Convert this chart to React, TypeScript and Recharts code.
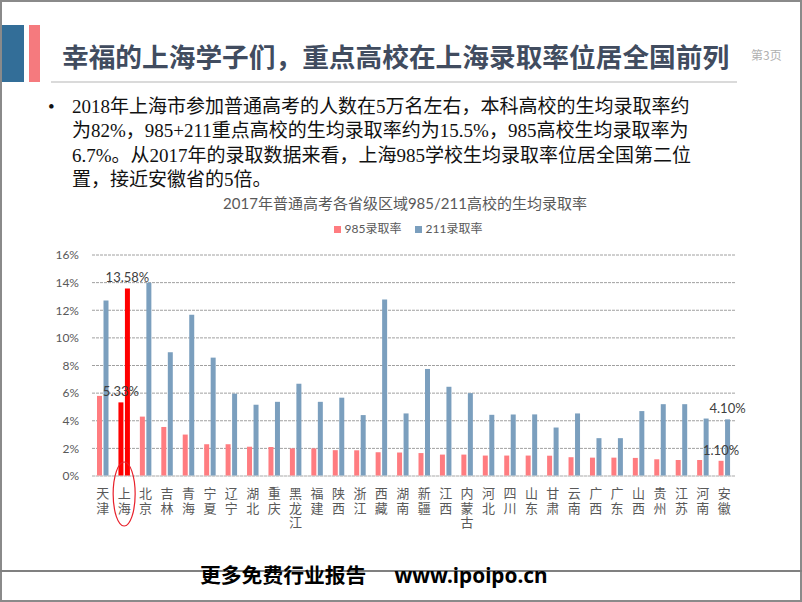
import { BarChart, Bar, XAxis, YAxis, CartesianGrid, Legend, Cell, LabelList } from 'recharts';

const provinces = ['天津', '上海', '北京', '吉林', '青海', '宁夏', '辽宁', '湖北', '重庆', '黑龙江', '福建', '陕西', '浙江', '西藏', '湖南', '新疆', '江西', '内蒙古', '河北', '四川', '山东', '甘肃', '云南', '广西', '广东', '山西', '贵州', '江苏', '河南', '安徽'];
const rate985 = [5.8, 5.33, 4.3, 3.55, 3.0, 2.3, 2.3, 2.12, 2.1, 2.0, 2.0, 1.87, 1.86, 1.72, 1.7, 1.66, 1.55, 1.55, 1.48, 1.48, 1.48, 1.47, 1.36, 1.33, 1.33, 1.31, 1.21, 1.16, 1.16, 1.1];
const rate211 = [12.7, 13.58, 14.0, 8.96, 11.67, 8.57, 5.96, 5.16, 5.37, 6.68, 5.37, 5.67, 4.41, 12.78, 4.53, 7.75, 6.46, 6.0, 4.43, 4.46, 4.46, 3.51, 4.53, 2.74, 2.74, 4.7, 5.2, 5.2, 4.16, 4.1];
const yTicks = [0, 2, 4, 6, 8, 10, 12, 14, 16];
const seriesNames = ['985录取率', '211录取率'];
const highlight = '上海';
const labelled = ['上海', '安徽'];

const data = provinces.map((p, i) => ({ name: p, r985: rate985[i], r211: rate211[i] }));

const PINK = '#ff7c80';
const BLUE = '#7b9fbe';
const RED = '#ff0000';
const GRAY = '#595959';
const CJK = '"Noto Sans CJK SC", sans-serif';
const SANS = 'Lato, "Noto Sans CJK SC", sans-serif';

// vertical category names, one glyph under the other
const XTick = (props: any) => {
  const { x, y, payload } = props;
  return (
    <g>
      <text x={x} y={y + 3} fontSize={13} fill={GRAY} fontFamily={CJK}
        style={{ writingMode: 'vertical-rl', letterSpacing: 1.5 }}>
        {payload.value}
      </text>
      {payload.value === highlight && (
        <ellipse cx={x} cy={y + 10} rx={11} ry={32} fill="none" stroke="#e8202a" strokeWidth={1.2} />
      )}
    </g>
  );
};

const renderLabel = (props: any) => {
  const { x, y, width, value, index } = props;
  if (!labelled.includes(provinces[index])) return null;
  return (
    <text x={x + width / 2} y={y - 6} textAnchor="middle" fontSize={13} fill="#404040" fontFamily={SANS}>
      {Number(value).toFixed(2)}%
    </text>
  );
};

const LegendBox = () => (
  <div style={{ display: 'flex', justifyContent: 'center', fontSize: 12, fontFamily: SANS, color: GRAY, lineHeight: '16px', paddingLeft: 14 }}>
    {seriesNames.map((n, i) => (
      <div key={n} style={{ display: 'flex', alignItems: 'center', marginRight: i === 0 ? 13 : 0 }}>
        <span style={{ width: 7, height: 7, background: i === 0 ? PINK : BLUE, marginRight: 4 }} />
        {n}
      </div>
    ))}
  </div>
);

export default function App() {
  return (
    <div style={{ position: 'absolute', left: 0, top: 0, width: 802, height: 602, background: '#fff', overflow: 'hidden' }}>
      <div style={{ position: 'absolute', inset: 0, border: '2px solid #8a8a8a', boxSizing: 'border-box' }} />
      <div style={{ position: 'absolute', left: 2, top: 25, width: 22, height: 57, background: '#336e98' }} />
      <div style={{ position: 'absolute', left: 29, top: 25, width: 11, height: 57, background: '#f57a7e' }} />
      <div style={{ position: 'absolute', left: 62, top: 38, fontFamily: CJK, fontWeight: 700, fontSize: 26.7, lineHeight: '36px', color: '#414c5f', whiteSpace: 'nowrap' }}>
        幸福的上海学子们，重点高校在上海录取率位居全国前列
      </div>
      <div style={{ position: 'absolute', left: 751, top: 46, fontFamily: CJK, fontSize: 12, lineHeight: '18px', color: '#b0b0b0' }}>第3页</div>
      <div style={{ position: 'absolute', left: 51, top: 81, width: 686, height: 2, background: '#dadada' }} />

      <div style={{ position: 'absolute', left: 48, top: 95, fontFamily: '"Liberation Serif", serif', fontSize: 19, lineHeight: '24px', color: '#111' }}>•</div>
      <div style={{ position: 'absolute', left: 72, top: 95, fontFamily: '"Liberation Serif", "Noto Sans CJK SC", serif', fontSize: 19, lineHeight: '24.3px', color: '#111', whiteSpace: 'nowrap' }}>
        <div>2018年上海市参加普通高考的人数在5万名左右，本科高校的生均录取率约</div>
        <div>为82%，985+211重点高校的生均录取率约为15.5%，985高校生均录取率为</div>
        <div>6.7%。从2017年的录取数据来看，上海985学校生均录取率位居全国第二位</div>
        <div>置，接近安徽省的5倍。</div>
      </div>

      <div style={{ position: 'absolute', left: 0, top: 193, width: 810, textAlign: 'center', fontFamily: SANS, fontSize: 15, lineHeight: '20px', color: GRAY }}>
        2017年普通高考各省级区域985/211高校的生均录取率
      </div>

      <div style={{ position: 'absolute', left: 0, top: 210 }}>
        <BarChart width={802} height={340} data={data} margin={{ top: 45, right: 67, left: 52, bottom: 14 }} barSize={5} barGap={1.5}>
          <CartesianGrid vertical={false} stroke="#a0a0a0" strokeDasharray="3 1" />
          <XAxis dataKey="name" interval={0} height={60} tickLine={false} axisLine={{ stroke: '#d9d9d9' }} tick={<XTick />} />
          <YAxis width={40} domain={[0, 16]} ticks={yTicks} tickFormatter={(v: number) => `${v}%`} axisLine={false} tickLine={false} tickMargin={7} tick={{ fontSize: 12, fill: GRAY, fontFamily: SANS }} />
          <Legend verticalAlign="middle" align="center" wrapperStyle={{ top: 11, left: 0, width: 802 }} content={<LegendBox />} />
          <Bar dataKey="r985" name={seriesNames[0]} fill={PINK} isAnimationActive={false}>
            {data.map((d, i) => <Cell key={i} fill={d.name === highlight ? RED : PINK} />)}
            <LabelList dataKey="r985" content={renderLabel} />
          </Bar>
          <Bar dataKey="r211" name={seriesNames[1]} fill={BLUE} isAnimationActive={false}>
            {data.map((d, i) => <Cell key={i} fill={d.name === highlight ? RED : BLUE} />)}
            <LabelList dataKey="r211" content={renderLabel} />
          </Bar>
        </BarChart>
      </div>

      <div style={{ position: 'absolute', left: 0, top: 570, width: 802, height: 2, background: '#808080' }} />
      <div style={{ position: 'absolute', left: 200, top: 561, fontFamily: '"Noto Sans", "Noto Sans CJK SC", sans-serif', fontWeight: 700, fontSize: 20.8, lineHeight: '28px', color: '#000', whiteSpace: 'nowrap' }}>
        更多免费行业报告<span style={{ marginLeft: 28 }}>www.ipoipo.cn</span>
      </div>
    </div>
  );
}
